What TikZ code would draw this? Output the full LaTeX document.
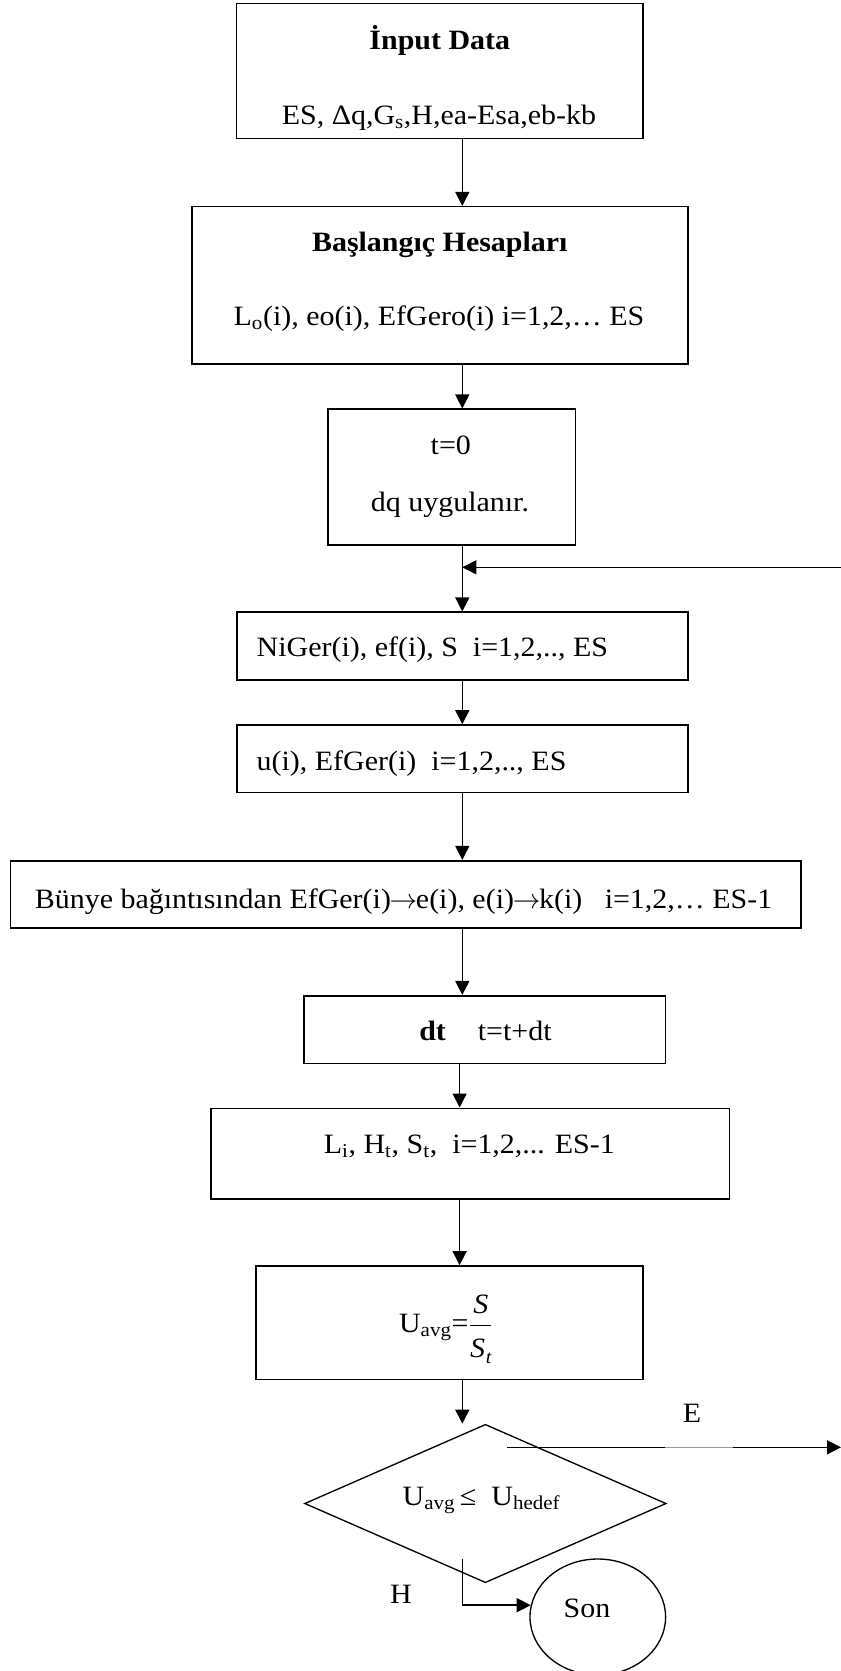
\documentclass[tikz,border=0pt]{standalone}
\usepackage{fontspec}
\setmainfont{Liberation Serif}[FakeStretch=1.07]
\usetikzlibrary{arrows.meta,shapes.geometric}
\newcommand\myto{\kern-1pt$\rightarrow$\kern-1pt}
\begin{document}
\begin{tikzpicture}[x=0.75pt,y=-0.75pt,
  box/.style={draw, rectangle, line width=1.2pt, inner sep=0pt},
  txt/.style={font=\fontsize{21}{25}\selectfont, inner sep=0pt},
  arr/.style={line width=1.1pt, -{Triangle[length=10.5pt,width=10.5pt]}},
  plain/.style={line width=1.1pt},
  thinarr/.style={line width=0.9pt, -{Triangle[length=10.5pt,width=10.5pt]}}]
\useasboundingbox (0,0) rectangle (841,1671);
\coordinate (cx) at (462.3,0);
\coordinate (cy) at (459.6,0);
% boxes
\node[box, minimum width=304.9pt, minimum height=101.25pt] (b1) at (439.75,70.8) {};
\node[box, minimum width=372pt, minimum height=118pt] (b2) at (440,285.35) {};
\node[box, minimum width=185.85pt, minimum height=101.8pt] (b3) at (451.6,477.15) {};
\node[box, minimum width=338.25pt, minimum height=50.8pt] (b4) at (462.5,646.15) {};
\node[box, minimum width=338.25pt, minimum height=50.5pt] (b5) at (462.5,758.65) {};
\node[box, minimum width=592.6pt, minimum height=50.25pt] (b6) at (405.75,894.2) {};
\node[box, minimum width=271.2pt, minimum height=50.7pt] (b7) at (484.8,1029.5) {};
\node[box, minimum width=388.95pt, minimum height=68pt] (b8) at (470.1,1153.65) {};
\node[box, minimum width=290.4pt, minimum height=85pt] (b9) at (449.4,1322.65) {};
\node[draw, diamond, line width=1pt, inner sep=0pt, minimum width=271.2pt, minimum height=118.8pt] (dia) at (485.4,1503.5) {};
\node[draw, ellipse, line width=1pt, inner sep=0pt, minimum width=101.7pt, minimum height=87pt] (son) at (597.8,1617) {};
% texts
\node[txt, anchor=base] (t1a) at (439.8,49.3) {\textbf{İnput Data}};
\node[txt, anchor=base] (t1b) at (439,124) {ES, Δq,G\textsubscript{s},H,ea-Esa,eb-kb};
\node[txt, anchor=base] (t2a) at (439.8,251.7) {\textbf{Başlangıç Hesapları}};
\node[txt, anchor=base] (t2b) at (439,325) {L\textsubscript{o}(i), eo(i), EfGero(i) i=1,2,… ES};
\node[txt, anchor=base] (t3a) at (450.8,454) {t=0};
\node[txt, anchor=base] (t3b) at (450,511) {dq uygulanır.};
\node[txt, anchor=base west] (t4) at (256.4,656.7) {NiGer(i), ef(i), S\ \ i=1,2,.., ES};
\node[txt, anchor=base west] (t5) at (256.4,770) {u(i), EfGer(i)\ \ i=1,2,.., ES};
\node[txt, anchor=base] (t6) at (403.6,908.3) {Bünye bağıntısından EfGer(i)\myto e(i), e(i)\myto k(i)\ \ \ i=1,2,… ES-1};
\node[txt, anchor=base west] (t7) at (419,1040.7) {\textbf{dt}\hspace{24pt}t=t+dt};
\node[txt, anchor=base] (t8) at (469.3,1153.3) {L\textsubscript{i}, H\textsubscript{t}, S\textsubscript{t},\ \ i=1,2,... ES-1};
\node[txt, anchor=base] (t9) at (446,1332.3) {U\textsubscript{avg}=$\displaystyle\frac{\mbox{\itshape S}}{\raisebox{-5pt}{\itshape S\kern0.5pt\raisebox{-4pt}{\fontsize{14}{16}\selectfont t}}}$};
\node[txt, anchor=base] (td) at (481.5,1505) {U\textsubscript{avg}\,≤\ \ U\textsubscript{hedef}};
\node[txt, anchor=base] (lE) at (692,1422.7) {E};
\node[txt, anchor=base] (lH) at (401,1603.3) {H};
\node[txt, anchor=base] (ls) at (587,1617.3) {Son};
% connectors
\draw[arr] (b1.south -| cx) -- (b2.north -| cx);
\draw[arr] (b2.south -| cx) -- (b3.north -| cx);
\draw[arr] (b3.south -| cx) -- (b4.north -| cx);
\draw[arr] (b4.south -| cx) -- (b5.north -| cx);
\draw[arr] (b5.south -| cx) -- (b6.north -| cx);
\draw[arr] (b6.south -| cx) -- (b7.north -| cx);
\draw[arr] (b7.south -| cy) -- (b8.north -| cy);
\draw[arr] (b8.south -| cy) -- (b9.north -| cy);
\draw[arr] (b9.south -| cx) -- (dia.north -| cx);
% feedback entry
\coordinate (fbR) at (841,567.3);
\draw[thinarr] (fbR) -- (fbR -| cx);
% E branch
\coordinate (eS) at (506.8,1447.3);
\coordinate (eG1) at (665,1447.3);
\coordinate (eG2) at (733,1447.3);
\coordinate (eE) at (841,1447.3);
\draw[plain] (eS) -- (eG1);
\draw[line width=0.5pt, black!40] (eG1) -- (eG2);
\draw[arr] (eG2) -- (eE);
% H branch
\coordinate (hS) at (462.3,1559.3);
\draw[arr] (hS) |- (son.170);
\end{tikzpicture}
\end{document}
